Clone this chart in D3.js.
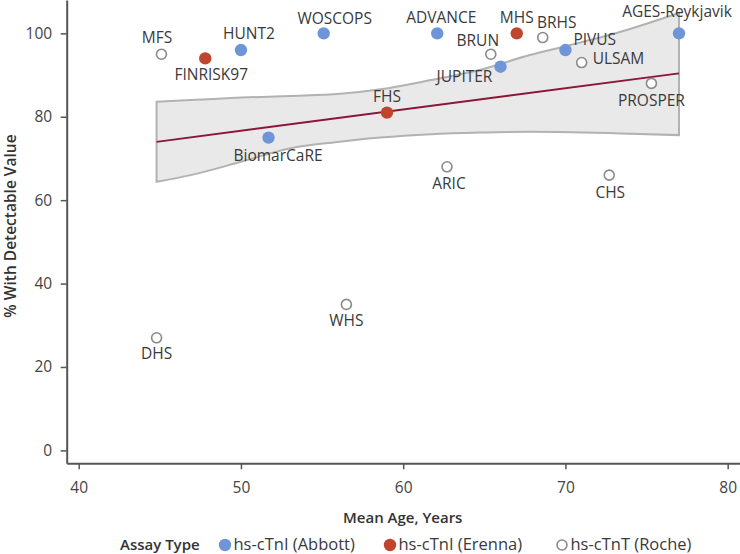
<!DOCTYPE html>
<html>
<head>
<meta charset="utf-8">
<script src="https://cdn.jsdelivr.net/npm/d3@7"></script>
<style>
  html, body { margin: 0; padding: 0; background: #fff; }
  svg { display: block; font-family: "Open Sans", "Noto Sans", sans-serif; }
</style>
</head>
<body>
<svg id="chart" width="740" height="554"></svg>
<script>
// ---- data ----
const studies = ["MFS","FINRISK97","HUNT2","WOSCOPS","ADVANCE","MHS","BRHS","BRUN","JUPITER","PIVUS","ULSAM","AGES-Reykjavik","PROSPER","FHS","BiomarCaRE","ARIC","CHS","WHS","DHS"];
const meanAge = [45.1, 47.8, 50.0, 55.1, 62.1, 67.0, 68.6, 65.4, 66.0, 70.0, 71.0, 77.0, 75.3, 59.0, 51.7, 62.7, 72.7, 56.5, 44.8];
const pctDetectable = [95, 94, 96, 100, 100, 100, 99, 95, 92, 96, 93, 100, 88, 81, 75, 68, 66, 35, 27];
const assayIndex = [2, 1, 0, 0, 0, 1, 2, 2, 0, 0, 2, 0, 2, 1, 0, 2, 2, 2, 2];
const assayTypes = ["hs-cTnI (Abbott)", "hs-cTnI (Erenna)", "hs-cTnT (Roche)"];
const xTicks = [40, 50, 60, 70, 80];
const yTicks = [0, 20, 40, 60, 80, 100];
const fitAge = [44.8, 77.0];
const fitValue = [74.0, 90.4];
const bandAge   = [44.8, 46.9, 50.0, 53.0, 56.1, 58.6, 61.7, 64.7, 67.8, 70.3, 73.4, 77.0];
const bandUpper = [83.6, 84.0, 84.6, 85.0, 85.5, 86.6, 88.8, 91.2, 94.8, 97.2, 100.4, 104.9];
const bandLower = [64.4, 66.0, 69.2, 72.4, 74.0, 75.0, 75.8, 76.2, 76.4, 76.3, 76.0, 75.6];

// ---- label placement (layout, not data) ----
const labelPlacement = {
  "MFS": ["middle", -4.5, -11], "FINRISK97": ["middle", 6, 22], "HUNT2": ["middle", 8, -11],
  "WOSCOPS": ["middle", 11, -9], "ADVANCE": ["middle", 4, -10], "MHS": ["middle", 0, -10],
  "BRHS": ["middle", 14, -10], "BRUN": ["middle", -13, -8], "JUPITER": ["middle", -36, 15],
  "PIVUS": ["start", 8, -5], "ULSAM": ["start", 11, 1], "AGES-Reykjavik": ["middle", -2, -16],
  "PROSPER": ["middle", 0, 23], "FHS": ["middle", 0, -10.5], "BiomarCaRE": ["middle", 9.5, 23],
  "ARIC": ["middle", 2, 22], "CHS": ["middle", 1, 23], "WHS": ["middle", 0, 22], "DHS": ["middle", 0, 21]
};

const colors = ["#6e95d7", "#c0452f", "#ffffff"];
const hollowStroke = "#8a8a8a";

const svg = d3.select("#chart");
const x = d3.scaleLinear().domain([39.26, 80.76]).range([66.7, 740]);
const y = d3.scaleLinear().domain([-3.1, 108]).range([463.3, 0]);

// band
const bandData = bandAge.map((a, i) => ({a, lo: bandLower[i], hi: bandUpper[i]}));
svg.append("path")
  .datum(bandData)
  .attr("d", d3.area().x(d => x(d.a)).y0(d => y(d.lo)).y1(d => y(d.hi)).curve(d3.curveMonotoneX))
  .attr("fill", "#e9e9e9")
  .attr("stroke", "#b2b2b2")
  .attr("stroke-width", 2);

// fit line
svg.append("path")
  .datum(fitAge.map((a, i) => [a, fitValue[i]]))
  .attr("d", d3.line().x(d => x(d[0])).y(d => y(d[1])))
  .attr("fill", "none")
  .attr("stroke", "#8c1538")
  .attr("stroke-width", 1.8);

// axes
const xAxis = svg.append("g").attr("transform", "translate(0,463.3)")
  .call(d3.axisBottom(x).tickValues(xTicks).tickSize(6).tickSizeOuter(0).tickPadding(13));
const yAxis = svg.append("g").attr("transform", "translate(66.7,0)")
  .call(d3.axisLeft(y).tickValues(yTicks).tickSize(6).tickSizeOuter(0).tickPadding(8.5));
[xAxis, yAxis].forEach(g => {
  g.select(".domain").attr("stroke", "#555").attr("stroke-width", 2);
  g.selectAll(".tick line").attr("stroke", "#555").attr("stroke-width", 1.5);
  g.selectAll(".tick text").attr("fill", "#444").style("font-size", "15.5px")
    .style("font-family", "'Open Sans', 'Noto Sans', sans-serif");
});

// points
const pts = studies.map((s, i) => ({s, a: meanAge[i], v: pctDetectable[i], k: assayIndex[i]}));
svg.append("g").selectAll("circle").data(pts).join("circle")
  .attr("cx", d => x(d.a)).attr("cy", d => y(d.v))
  .attr("r", d => d.k === 2 ? 5 : 6.2)
  .attr("fill", d => colors[d.k])
  .attr("stroke", d => d.k === 2 ? hollowStroke : "none")
  .attr("stroke-width", 1.6);

// labels
svg.append("g").selectAll("text").data(pts).join("text")
  .attr("x", d => x(d.a) + labelPlacement[d.s][1])
  .attr("y", d => y(d.v) + labelPlacement[d.s][2])
  .attr("text-anchor", d => labelPlacement[d.s][0])
  .attr("fill", "#3a3a3a")
  .style("font-size", "15.5px")
  .text(d => d.s);

// axis titles
svg.append("text")
  .attr("x", 402.7).attr("y", 523)
  .attr("text-anchor", "middle")
  .attr("fill", "#333").style("font-size", "15px").style("font-weight", 600)
  .text("Mean Age, Years");
svg.append("text")
  .attr("transform", "translate(15.5,226) rotate(-90)")
  .attr("text-anchor", "middle")
  .attr("fill", "#333").style("font-size", "15.5px").style("font-weight", 600)
  .text("% With Detectable Value");

// legend
const legend = svg.append("g");
legend.append("text").attr("x", 120).attr("y", 549.5)
  .attr("fill", "#333").style("font-size", "15px").style("font-weight", 600)
  .text("Assay Type");
const legendX = [225, 390, 562];
assayTypes.forEach((t, i) => {
  legend.append("circle").attr("cx", legendX[i]).attr("cy", 545)
    .attr("r", i === 2 ? 5 : 6.2)
    .attr("fill", colors[i])
    .attr("stroke", i === 2 ? hollowStroke : "none").attr("stroke-width", 1.6);
  legend.append("text").attr("x", legendX[i] + 8.5).attr("y", 549.5)
    .attr("fill", "#3a3a3a").style("font-size", "16.5px")
    .text(t);
});
</script>
</body>
</html>
